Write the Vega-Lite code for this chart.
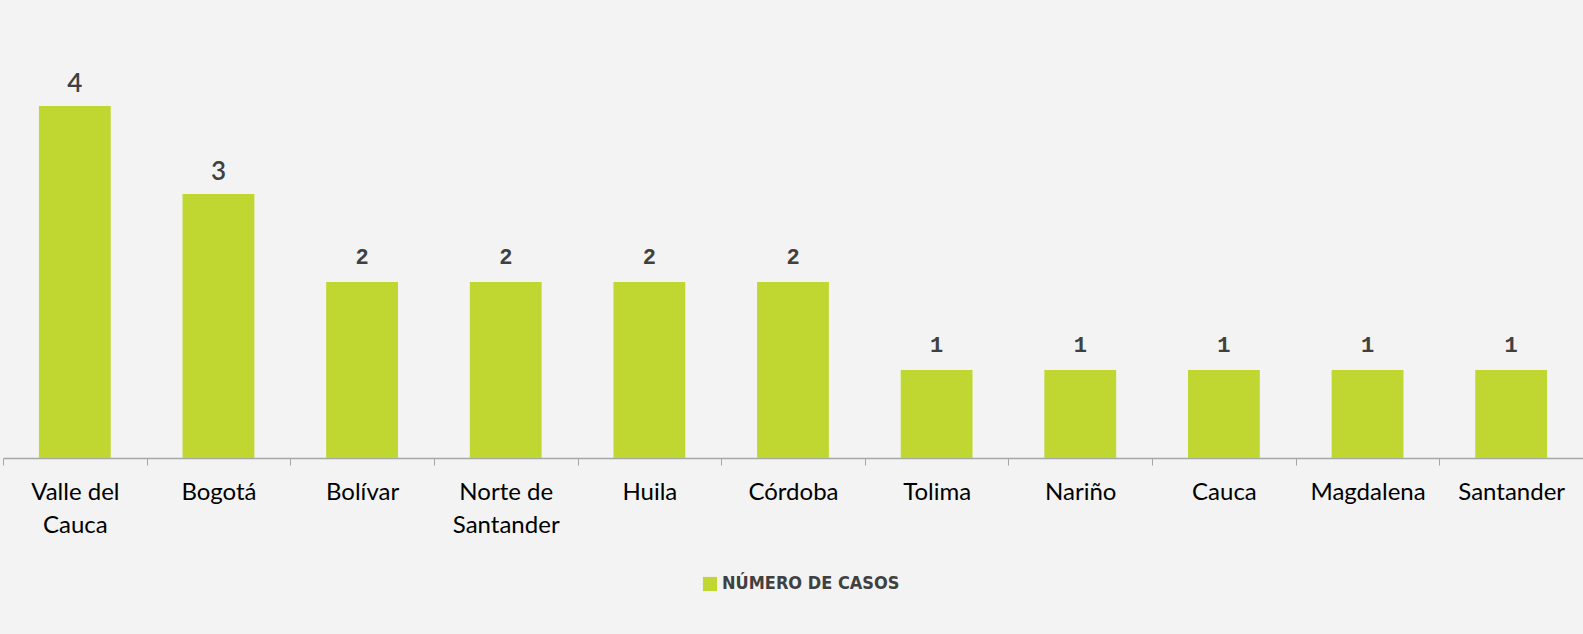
{
  "$schema": "https://vega.github.io/schema/vega-lite/v6.json",
  "autosize": {"type": "none"},
  "width": 1580,
  "height": 440,
  "padding": {"left": 3, "top": 18, "right": 0, "bottom": 176},
  "background": "#f3f3f3",
  "config": {"view": {"stroke": null}},
  "data": {"values": [
    {"depto": "Valle del Cauca", "casos": 4, "serie": "NÚMERO DE CASOS"},
    {"depto": "Bogotá", "casos": 3, "serie": "NÚMERO DE CASOS"},
    {"depto": "Bolívar", "casos": 2, "serie": "NÚMERO DE CASOS"},
    {"depto": "Norte de Santander", "casos": 2, "serie": "NÚMERO DE CASOS"},
    {"depto": "Huila", "casos": 2, "serie": "NÚMERO DE CASOS"},
    {"depto": "Córdoba", "casos": 2, "serie": "NÚMERO DE CASOS"},
    {"depto": "Tolima", "casos": 1, "serie": "NÚMERO DE CASOS"},
    {"depto": "Nariño", "casos": 1, "serie": "NÚMERO DE CASOS"},
    {"depto": "Cauca", "casos": 1, "serie": "NÚMERO DE CASOS"},
    {"depto": "Magdalena", "casos": 1, "serie": "NÚMERO DE CASOS"},
    {"depto": "Santander", "casos": 1, "serie": "NÚMERO DE CASOS"}
  ]},
  "encoding": {
    "x": {
      "field": "depto", "type": "nominal", "sort": null,
      "scale": {"paddingInner": 0, "paddingOuter": 0},
      "axis": {
        "title": null, "labelAngle": 0, "tickBand": "extent",
        "domainColor": "#a6a6a6", "domainWidth": 1.5,
        "tickColor": "#a6a6a6", "tickSize": 7, "tickWidth": 1,
        "labelFont": "Lato", "labelFontSize": 24, "labelColor": "#000000",
        "labelPadding": 15, "labelLineHeight": 33, "labelLimit": 300,
        "labelExpr": "length(datum.label) > 10 ? [substring(datum.label, 0, lastindexof(datum.label, ' ')), substring(datum.label, lastindexof(datum.label, ' ') + 1)] : datum.label"
      }
    },
    "y": {
      "field": "casos", "type": "quantitative",
      "scale": {"domain": [0, 5]},
      "axis": null
    }
  },
  "layer": [
    {
      "mark": {"type": "bar", "color": "#bfd730", "width": {"band": 0.5}},
      "encoding": {
        "color": {
          "field": "serie", "type": "nominal",
          "scale": {"range": ["#bfd730"]},
          "legend": {
            "title": null, "orient": "none", "legendX": 698, "legendY": 557,
            "symbolType": "square", "symbolSize": 200, "symbolStrokeWidth": 0,
            "labelFont": "DejaVu Sans Condensed", "labelFontWeight": "bold",
            "labelFontSize": 18, "labelColor": "#404040", "labelOffset": 3, "labelLimit": 500
          }
        }
      }
    },
    {
      "transform": [{"filter": "datum.casos >= 3"}],
      "mark": {"type": "text", "font": "Lato", "fontWeight": 600, "fontSize": 26, "color": "#404040", "baseline": "alphabetic", "dy": -14},
      "encoding": {"text": {"field": "casos", "type": "quantitative"}}
    },
    {
      "transform": [{"filter": "datum.casos < 3"}],
      "mark": {"type": "text", "font": "Liberation Mono", "fontWeight": "bold", "fontSize": 22, "color": "#404040", "baseline": "alphabetic", "dy": -18},
      "encoding": {"text": {"field": "casos", "type": "quantitative"}}
    }
  ]
}
